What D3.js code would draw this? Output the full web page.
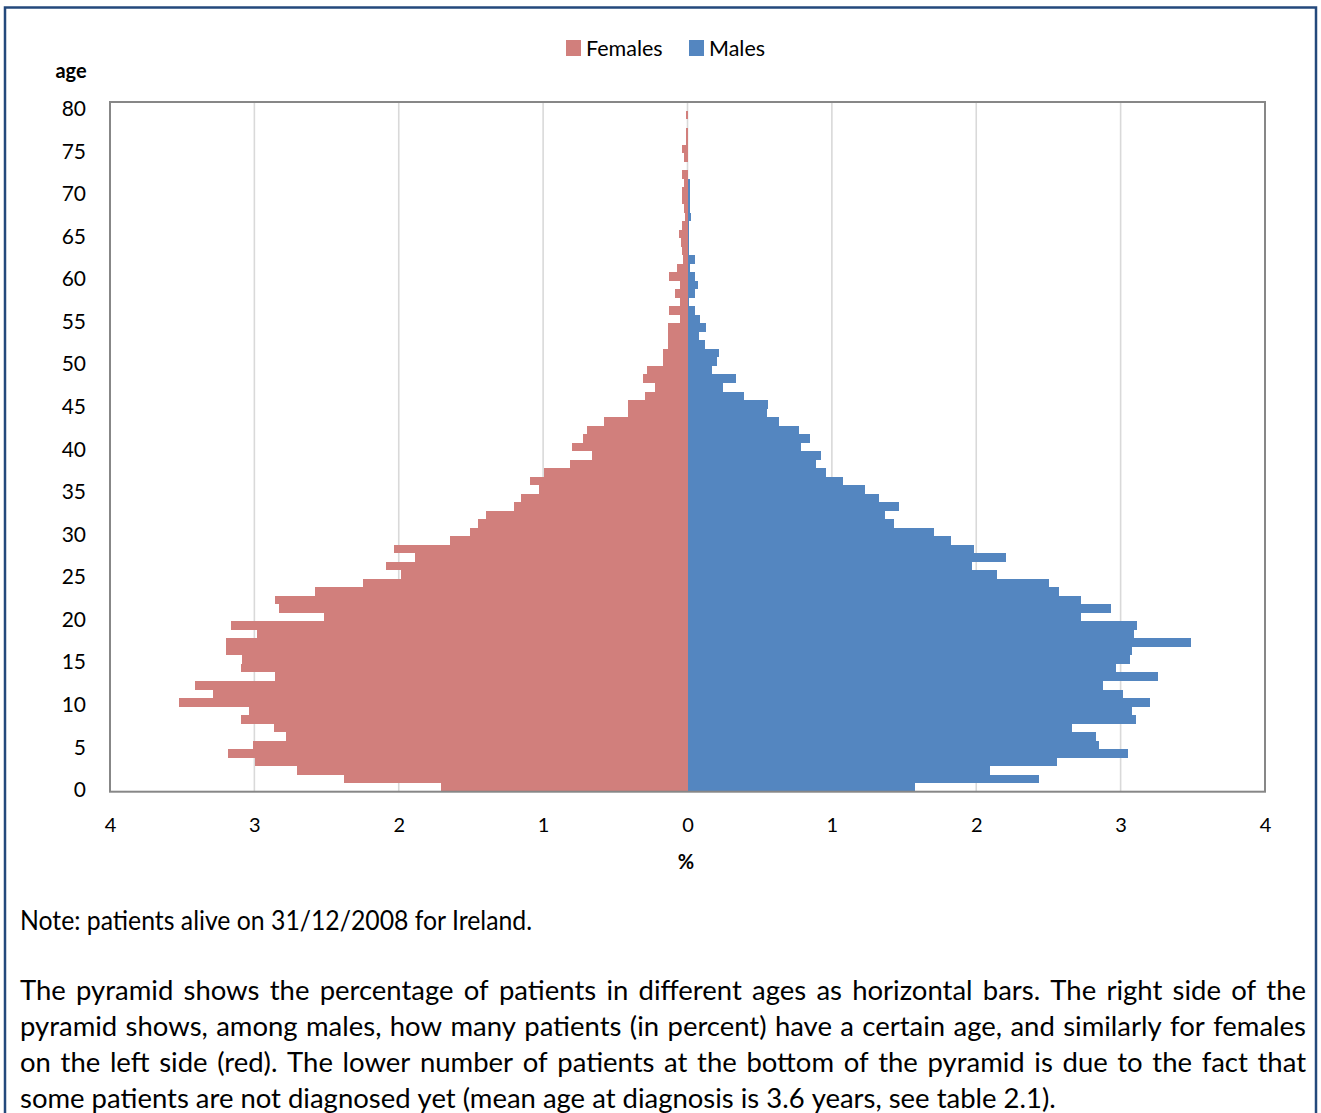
<!DOCTYPE html>
<html>
<head>
<meta charset="utf-8">
<script src="https://cdn.jsdelivr.net/npm/d3@7"></script>
<style>
  html, body { margin: 0; padding: 0; background: #ffffff; }
  svg { display: block; }
  text { font-family: Lato, "Open Sans", sans-serif; fill: #000; }
</style>
</head>
<body>
<svg id="chart" width="1321" height="1113"></svg>
<script>
// ---------------- data ----------------
const ages = d3.range(0, 81); // 0 .. 80
const females = [
  1.706, 2.377, 2.706, 2.995, 3.185, 3.008, 2.783, 2.867, 3.095, 3.034,
  3.524, 3.286, 3.411, 2.857, 3.095, 3.084, 3.196, 3.196, 2.984, 3.159,
  2.517, 2.830, 2.857, 2.578, 2.250, 1.982, 2.088, 1.886, 2.035, 1.645,
  1.505, 1.454, 1.393, 1.203, 1.152, 1.028, 1.091, 0.993, 0.813, 0.662,
  0.800, 0.723, 0.699, 0.575, 0.410, 0.410, 0.296, 0.222, 0.309, 0.283,
  0.169, 0.169, 0.132, 0.132, 0.138, 0.053, 0.127, 0.053, 0.088, 0.053,
  0.127, 0.076, 0.030, 0.037, 0.046, 0.060, 0.037, 0.018, 0.021, 0.035,
  0.035, 0.021, 0.035, 0.000, 0.021, 0.035, 0.012, 0.012, 0.000, 0.012,
  0.000
];
const males = [
  1.579, 2.435, 2.098, 2.562, 3.053, 2.851, 2.830, 2.663, 3.105, 3.079,
  3.204, 3.018, 2.875, 3.256, 2.965, 3.068, 3.079, 3.484, 3.092, 3.116,
  2.726, 2.930, 2.726, 2.575, 2.501, 2.146, 1.971, 2.209, 1.984, 1.823,
  1.706, 1.428, 1.367, 1.465, 1.327, 1.229, 1.076, 0.961, 0.887, 0.924,
  0.789, 0.850, 0.773, 0.635, 0.551, 0.558, 0.394, 0.243, 0.333, 0.169,
  0.206, 0.220, 0.118, 0.079, 0.127, 0.085, 0.051, 0.012, 0.051, 0.074,
  0.051, 0.016, 0.051, 0.010, 0.010, 0.010, 0.012, 0.022, 0.016, 0.016,
  0.016, 0.016, 0.000, 0.000, 0.000, 0.000, 0.000, 0.000, 0.000, 0.000,
  0.000
];
const xTicks = [-4, -3, -2, -1, 0, 1, 2, 3, 4];
const yTicks = [0, 5, 10, 15, 20, 25, 30, 35, 40, 45, 50, 55, 60, 65, 70, 75, 80];
const seriesNames = ["Females", "Males"];
const seriesColors = ["#D17F7C", "#5486C0"];
const noteText = "Note: patients alive on 31/12/2008 for Ireland.";
const paragraphLines = [
  "The pyramid shows the percentage of patients in different ages as horizontal bars. The right side of the",
  "pyramid shows, among males, how many patients (in percent) have a certain age, and similarly for females",
  "on the left side (red). The lower number of patients at the bottom of the pyramid is due to the fact that",
  "some patients are not diagnosed yet (mean age at diagnosis is 3.6 years, see table 2.1)."
];

// ---------------- layout ----------------
const svg = d3.select("#chart");
const plot = { left: 110, right: 1265, top: 102, bottom: 791.7 };

// outer frame
svg.append("rect")
  .attr("x", 5).attr("y", 7.5)
  .attr("width", 1311).attr("height", 1130)
  .attr("fill", "none")
  .attr("stroke", "#24497C")
  .attr("stroke-width", 2.5);

const x = d3.scaleLinear().domain([-4, 4]).range([plot.left, plot.right]);
const y = d3.scaleBand().domain(ages).range([plot.bottom, plot.top]).padding(0);

// gridlines
svg.append("g").selectAll("line")
  .data(xTicks.filter(t => t > -4 && t < 4))
  .join("line")
  .attr("x1", d => x(d)).attr("x2", d => x(d))
  .attr("y1", plot.top).attr("y2", plot.bottom)
  .attr("stroke", "#D9D9D9").attr("stroke-width", 1.6);

// bars
const fData = ages.map((a, i) => ({ age: a, v: females[i] }));
const mData = ages.map((a, i) => ({ age: a, v: males[i] }));

svg.append("g").attr("shape-rendering", "crispEdges").selectAll("rect")
  .data(fData.filter(d => d.v > 0))
  .join("rect")
  .attr("x", d => x(-d.v))
  .attr("width", d => x(0) - x(-d.v))
  .attr("y", d => y(d.age))
  .attr("height", y.bandwidth())
  .attr("fill", seriesColors[0]);

svg.append("g").attr("shape-rendering", "crispEdges").selectAll("rect")
  .data(mData.filter(d => d.v > 0))
  .join("rect")
  .attr("x", x(0))
  .attr("width", d => x(d.v) - x(0))
  .attr("y", d => y(d.age))
  .attr("height", y.bandwidth())
  .attr("fill", seriesColors[1]);

// plot border
svg.append("rect")
  .attr("x", plot.left).attr("y", plot.top)
  .attr("width", plot.right - plot.left).attr("height", plot.bottom - plot.top)
  .attr("fill", "none").attr("stroke", "#878787").attr("stroke-width", 2);

// axes
const xAxis = d3.axisBottom(x).tickValues(xTicks).tickSize(0).tickPadding(26)
  .tickFormat(d => Math.abs(d));
const gx = svg.append("g").attr("transform", `translate(0,${plot.bottom})`).call(xAxis);
gx.select(".domain").remove();
gx.selectAll("text").style("font-family", "Lato, sans-serif").style("font-size", "20px").attr("fill", "#000");

const yAxis = d3.axisLeft(y).tickValues(yTicks).tickSize(0).tickPadding(24);
const gy = svg.append("g").attr("transform", `translate(${plot.left},0)`).call(yAxis);
gy.select(".domain").remove();
gy.selectAll("text").style("font-family", "Lato, sans-serif").style("font-size", "21px")
  .attr("fill", "#000").attr("dy", "0.46em");

// axis titles
svg.append("text").attr("x", 71).attr("y", 78).attr("text-anchor", "middle")
  .style("font-size", "20px").style("font-weight", "bold").text("age");
svg.append("text").attr("x", 686).attr("y", 869).attr("text-anchor", "middle")
  .style("font-size", "20px").style("font-weight", "bold").text("%");

// legend
const legendX = [566, 689];
const lg = svg.append("g").selectAll("g").data(seriesNames).join("g")
  .attr("transform", (d, i) => `translate(${legendX[i]},40)`);
lg.append("rect").attr("width", 15).attr("height", 16).attr("fill", (d, i) => seriesColors[i]);
lg.append("text").attr("x", 20).attr("y", 15.5).style("font-size", "21.5px").text(d => d);

// ---------------- notes ----------------
const leftX = 20, rightX = 1306;
const baseFs = 22;
// fit font size so the last (left-aligned) paragraph line spans like the reference (~1035 px)
const probe = svg.append("text").style("font-size", baseFs + "px").text(paragraphLines[3]);
const fs = baseFs * 1035 / probe.node().getComputedTextLength();
probe.remove();

svg.append("text").attr("x", leftX).attr("y", 930)
  .style("font-size", fs + "px")
  .attr("textLength", 512).attr("lengthAdjust", "spacingAndGlyphs")
  .text(noteText);

const baselines = [1000, 1036, 1072, 1108];
const measure = svg.append("text").style("font-size", fs + "px").text("a a");
const withSpace = measure.node().getComputedTextLength();
measure.text("aa");
const spaceW = withSpace - measure.node().getComputedTextLength();
measure.remove();

paragraphLines.forEach((line, li) => {
  const words = line.split(" ");
  const g = svg.append("g");
  const nodes = words.map(w => g.append("text").attr("y", baselines[li])
    .style("font-size", fs + "px").text(w));
  const widths = nodes.map(n => n.node().getComputedTextLength());
  const total = d3.sum(widths);
  const justify = li < paragraphLines.length - 1;
  const gap = justify ? (rightX - leftX - total) / (words.length - 1) : spaceW;
  let cx = leftX;
  nodes.forEach((n, i) => { n.attr("x", cx); cx += widths[i] + gap; });
});
</script>
</body>
</html>
